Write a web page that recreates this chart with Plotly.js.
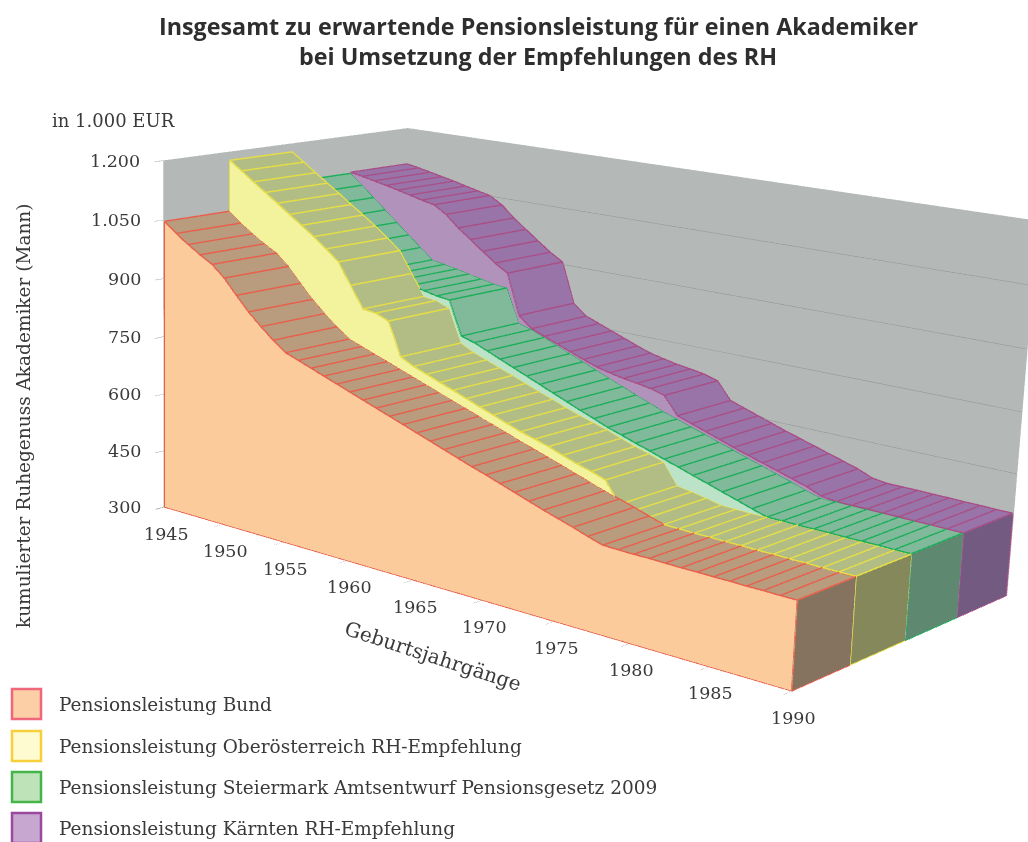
<!DOCTYPE html>
<html><head><meta charset="utf-8">
<script src="https://cdn.plot.ly/plotly-3.0.1.min.js"></script>
<style>html,body{margin:0;padding:0;background:#fff;width:1028px;height:842px;overflow:hidden}
#chart{position:absolute;left:-630px;top:-659px}</style></head>
<body><div id="chart"></div>
<script>
const years=[1945,1946,1947,1948,1949,1950,1951,1952,1953,1954,1955,1956,1957,1958,1959,1960,1961,1962,1963,1964,1965,1966,1967,1968,1969,1970,1971,1972,1973,1974,1975,1976,1977,1978,1979,1980,1981,1982,1983,1984,1985,1986,1987,1988,1989,1990];
const bund=[1045,1020,998,978,960,932,895,860,830,803,779,767,755,743,731,719,707,695,683,671,659,647,635,623,611,600,588,576,564,552,541,530,518,507,506,505,505,504,503,503,502,502,501,501,500,500];
const ooe=[1177,1155,1132,1110,1088,1065,1043,1020,995,968,915,862,858,845,762,745,733,720,708,695,682,670,657,645,635,625,612,600,590,578,528,522,515,507,506,505,505,504,504,503,503,502,502,501,501,501];
const stmk=[1097,1070,1042,1014,986,958,930,903,897,891,884,877,870,866,780,770,756,742,728,714,700,686,672,658,645,631,620,608,597,585,574,562,551,539,528,516,505,505,504,504,504,503,503,503,502,502];
const kaernten=[1100,1094,1087,1080,1073,1065,1057,1050,1030,1000,975,950,925,905,800,772,759,746,733,720,708,700,693,688,682,672,628,616,604,592,580,569,558,547,536,525,510,505,505,505,504,504,503,503,502,502];
const seriesNames=["Pensionsleistung Bund","Pensionsleistung Oberösterreich RH-Empfehlung","Pensionsleistung Steiermark Amtsentwurf Pensionsgesetz 2009","Pensionsleistung Kärnten RH-Empfehlung"];
const seriesValues=[bund,ooe,stmk,kaernten];
const frontColors=["#fccb9c","#f3f39e","#bce3c8","#b092ba"];
const topColors=["#b89c7d","#b1bd84","#81ba9b","#9874a8"];
const endColors=["#85735f","#84885a","#5f8871","#725a80"];
const lineColors=["#e8604c","#e4dd45","#1fae5c","#a94f88"];
const swatchFill=["#fdcfa6","#fffbd0","#bfe3b8","#c7a6cf"];
const swatchLine=["#f0667a","#f7cf3a","#45b54a","#9a4a9e"];
const zTicks=[300,450,600,750,900,1050,1200];
const zLabels=["300","450","600","750","900","1.050","1.200"];
const xTicks=[1945,1950,1955,1960,1965,1970,1975,1980,1985,1990];
const gridValues=[450,600,750,900,1050];

const W=2154,H=2154,L=-630,T=-659;
const px=x=>(x-L)/W, py=y=>1-(y-T)/H;
const flat={ambient:1,diffuse:0,specular:0,roughness:1,fresnel:0};
const base=300;
const lift=1.5; // keeps the stripes just above the surface they lie on
const traces=[];
function mesh(xs,ys,zs,is,js,ks,color){
  traces.push({type:'mesh3d',x:xs,y:ys,z:zs,i:is,j:js,k:ks,color:color,flatshading:true,lighting:flat,hoverinfo:'skip',showscale:false});
}
seriesValues.forEach((v,s)=>{
  const n=years.length;
  let X=[],Y=[],Z=[],I=[],J=[],K=[];
  years.forEach((yr,q)=>{X.push(yr,yr);Y.push(s,s);Z.push(v[q],base);});
  for(let q=0;q<n-1;q++){const a=2*q;I.push(a,a+1);J.push(a+1,a+3);K.push(a+2,a+2);}
  mesh(X,Y,Z,I,J,K,frontColors[s]);
  X=[];Y=[];Z=[];I=[];J=[];K=[];
  years.forEach((yr,q)=>{X.push(yr,yr);Y.push(s,s+1);Z.push(v[q],v[q]);});
  for(let q=0;q<n-1;q++){const a=2*q;I.push(a,a+1);J.push(a+1,a+3);K.push(a+2,a+2);}
  mesh(X,Y,Z,I,J,K,topColors[s]);
  const e=v[n-1],ye=years[n-1];
  mesh([ye,ye,ye,ye],[s,s+1,s+1,s],[base,base,e,e],[0,0],[1,2],[2,3],endColors[s]);
  const lx=[],ly=[],lz=[];
  years.forEach((yr,q)=>{lx.push(yr,yr,null);ly.push(s,s+1,null);lz.push(v[q]+lift,v[q]+lift,null);});
  years.forEach((yr,q)=>{lx.push(yr);ly.push(s);lz.push(v[q]+lift);});
  lx.push(null);ly.push(null);lz.push(null);
  years.forEach((yr,q)=>{lx.push(yr);ly.push(s+1);lz.push(v[q]+lift);});
  lx.push(null);ly.push(null);lz.push(null);
  lx.push(ye,ye,ye,ye,null);ly.push(s,s,s+1,s+1,null);lz.push(e,base,base,e,null);
  lx.push(years[0],years[0],ye,null);ly.push(s,s,s,null);lz.push(v[0],base,base,null);
  traces.push({type:'scatter3d',mode:'lines',x:lx,y:ly,z:lz,line:{color:lineColors[s],width:3},hoverinfo:'skip',showlegend:false});
});
const gx=[],gy=[],gz=[];
gridValues.forEach(g=>{gx.push(years[0],years[years.length-1],null);gy.push(4,4,null);gz.push(g,g,null);});
traces.push({type:'scatter3d',mode:'lines',x:gx,y:gy,z:gz,line:{color:"#8d9494",width:1},hoverinfo:'skip',showlegend:false});

const tickFont={family:"DejaVu Serif",size:17.5,color:"#3a3a3a"};
const sceneAnn=[];
xTicks.forEach(t=>sceneAnn.push({x:t,y:0,z:300,text:String(t),showarrow:false,xanchor:'center',yanchor:'middle',xshift:2,yshift:-27,font:tickFont}));
zTicks.forEach((t,q)=>sceneAnn.push({x:1945,y:0,z:t,text:zLabels[q],showarrow:false,xanchor:'right',yanchor:'middle',xshift:-22,font:tickFont}));

const ax={showgrid:false,zeroline:false,showticklabels:false,showspikes:false,title:{text:''},showline:false};
const wall="#b4b9b8";
const note=(x,y,text,font,extra)=>Object.assign({xref:'paper',yref:'paper',x:px(x),y:py(y),text,showarrow:false,xanchor:'center',yanchor:'middle',font},extra||{});
const serif=s=>({family:"DejaVu Serif",size:s,color:"#3a3a3a"});
const head={family:"Open Sans",size:23.3,color:"#2e2e2e"};
const annotations=[
 note(113,120,"in 1.000 EUR",serif(18)),
 note(23,416,"kumulierter Ruhegenuss Akademiker (Mann)",serif(18.5),{textangle:-90}),
 note(433,656,"Geburtsjahrgänge",serif(20),{textangle:18}),
 note(538,26,"<b>Insgesamt zu erwartende Pensionsleistung für einen Akademiker</b>",head),
 note(538,56,"<b>bei Umsetzung der Empfehlungen des RH</b>",head)
];
const shapes=[];
const legendY=[704,746,787,828];
seriesNames.forEach((name,s)=>{
  annotations.push(note(57,legendY[s],name,serif(18.5),{xanchor:'left'}));
  shapes.push({type:'rect',xref:'paper',yref:'paper',x0:px(12),x1:px(41),y0:py(legendY[s]-15),y1:py(legendY[s]+15),fillcolor:swatchFill[s],line:{color:swatchLine[s],width:2.5}});
});
const layout={width:W,height:H,margin:{l:0,r:0,t:0,b:0},paper_bgcolor:'#fff',showlegend:false,annotations,shapes,
 scene:{domain:{x:[0,1],y:[0,1]},aspectmode:'manual',aspectratio:{x:1.145,y:0.544,z:0.534},
  camera:{eye:{x:2.234,y:-2.896,z:0.856},center:{x:-0.127,y:-0.132,z:-0.068},up:{x:-0.1779,y:0.1676,z:0.9694},projection:{type:'perspective'}},
  xaxis:Object.assign({},ax,{range:[1944.95,1990.05],showbackground:true,backgroundcolor:wall,ticks:'outside',tickvals:xTicks,ticklen:3,tickcolor:'#aaa'}),
  yaxis:Object.assign({},ax,{range:[-0.01,4.01],showbackground:true,backgroundcolor:wall}),
  zaxis:Object.assign({},ax,{range:[299.5,1200.5],showbackground:true,backgroundcolor:wall,ticks:'outside',tickvals:zTicks,ticklen:3,tickcolor:'#aaa'}),
  annotations:sceneAnn}};
Plotly.newPlot('chart',traces,layout,{displayModeBar:false,plotGlPixelRatio:1});
</script></body></html>
